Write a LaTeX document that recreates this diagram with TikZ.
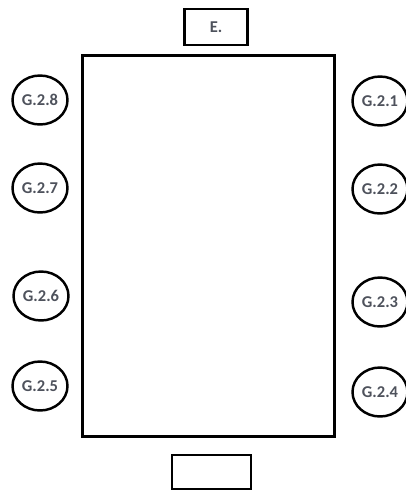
\documentclass[tikz,border=0pt]{standalone}
\usepackage{fontspec}
\setmainfont{Carlito}
\usetikzlibrary{shapes.geometric}
\definecolor{labelgray}{RGB}{78,82,92}

\begin{document}
\begin{tikzpicture}[x=0.02cm, y=-0.02cm,
    seat/.style={ellipse, draw, line width=1.4pt, minimum width=1.1cm, minimum height=0.98cm,
                 inner sep=0pt, font=\bfseries\fontsize{9.4}{10}\selectfont, text=labelgray},
    endbox/.style={rectangle, draw, line width=1.6pt, inner sep=0pt,
                   font=\bfseries\fontsize{9.4}{10}\selectfont, text=labelgray}]
  % frame
  \useasboundingbox (0,0) rectangle (406,491);
  % table
  \node[rectangle, draw, line width=1.7pt, minimum width=5.06cm, minimum height=7.64cm] (table) at (208.5,246) {};
  % head and foot
  \node[endbox, minimum width=1.26cm, minimum height=0.72cm] (head) at (216,27) {E.};
  \node[endbox, minimum width=1.58cm, minimum height=0.68cm] (foot) at (211.5,472) {};
  % left side
  \node[seat] (g28) at (40,100) {G.2.8};
  \node[seat] (g27) at (40,188) {G.2.7};
  \node[seat] (g26) at (41,296) {G.2.6};
  \node[seat] (g25) at (40,386) {G.2.5};
  % right side
  \node[seat] (g21) at (380,101) {G.2.1};
  \node[seat] (g22) at (380,189) {G.2.2};
  \node[seat] (g23) at (380,302) {G.2.3};
  \node[seat] (g24) at (380,392) {G.2.4};
\end{tikzpicture}
\end{document}
